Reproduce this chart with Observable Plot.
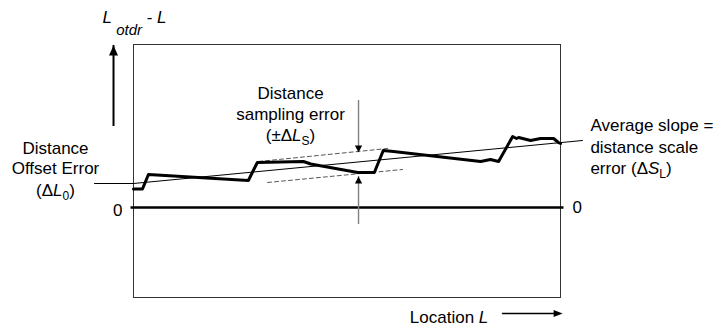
<!DOCTYPE html>
<html><head><meta charset="utf-8">
<script src="https://cdn.jsdelivr.net/npm/d3@7"></script>
<script src="https://cdn.jsdelivr.net/npm/@observablehq/plot@0.6"></script>
<style>body{margin:0;background:#fff;}</style>
</head><body><div id="chart"></div>
<script>
// Measured OTDR trace: location across the frame (0–100) vs. deviation Lotdr − L (arbitrary units)
const traceX = [0, 2.1, 3.5, 26.9, 29.0, 39.8, 41.5, 52.5, 56.4, 58.5, 60.9, 81.3, 83.6, 85.5, 88.8, 89.7, 90.2, 93.0, 95.3, 98.4, 99.5, 100];
const traceY = [18.5, 18.5, 33, 27, 45, 46, 43.5, 35, 35, 57, 56, 46, 48, 46, 71, 69, 70, 67, 69, 69, 65, 64];

// Average-slope (trend) line and offset leader
const trendX = [0, 105.15];
const trendY = [24, 67];
const leaderX = [-9.13, 0];
const leaderY = [24, 24];

// Sampling-error band (dashed)
const bandUpperX = [29.3, 59.5];
const bandUpperY = [46, 59];
const bandLowerX = [31.4, 63.0];
const bandLowerY = [25, 38];

// Zero line
const zeroX = [-0.7, 100.7];

// Arrows: x, from y, to y (tip)
const vArrowX = [-4.68, 52.7, 52.7];
const vArrowFrom = [87, 107, -13];
const vArrowTo = [162, 55, 31];
const vArrowColor = ["black", "#808080", "#808080"];
const hArrowY = [-106];
const hArrowFrom = [86.4];
const hArrowTo = [100.5];

// Text labels ({} italic, [] subscript)
const labelText = ["{L}[ {otdr}] - {L}", "Distance", "Offset Error", "(Δ{L}[0])",
  "Distance", "sampling error", "(±Δ{L}[S])",
  "Average slope =", "distance scale", "error (Δ{S}[L])",
  "0", "0", "Location {L}"];
const labelX = [-7.26, -18.27, -18.27, -18.27, 36.77, 36.77, 36.77, 107, 107, 107, -2.58, 102.8, 83.1];
const labelY = [185, 54, 33.5, 12, 109, 88, 67, 77, 55, 34, -8, -5, -115];
const labelAnchor = ["start", "middle", "middle", "middle", "middle", "middle", "middle", "start", "start", "start", "end", "start", "end"];

const trace = traceX.map((x, i) => ({x, y: traceY[i]}));
const trend = trendX.map((x, i) => ({x, y: trendY[i]}));
const leader = leaderX.map((x, i) => ({x, y: leaderY[i]}));
const bandU = bandUpperX.map((x, i) => ({x, y: bandUpperY[i]}));
const bandL = bandLowerX.map((x, i) => ({x, y: bandLowerY[i]}));
const zero = zeroX.map(x => ({x, y: 0}));
const vArrows = vArrowX.map((x, i) => ({x, y1: vArrowFrom[i], y2: vArrowTo[i], c: vArrowColor[i], up: vArrowTo[i] > vArrowFrom[i]}));
const hArrows = hArrowY.map((y, i) => ({y, x1: hArrowFrom[i], x2: hArrowTo[i]}));
const labels = labelText.map((t, i) => ({t, x: labelX[i], y: labelY[i], a: labelAnchor[i]}));

function head(dir, len, half) {
  return {draw(ctx) {
    ctx.moveTo(0, 0);
    if (dir === "up") { ctx.lineTo(-half, len); ctx.lineTo(half, len); }
    else if (dir === "down") { ctx.lineTo(-half, -len); ctx.lineTo(half, -len); }
    else { ctx.lineTo(-len, -half); ctx.lineTo(-len, half); }
    ctx.closePath();
  }};
}

const font = "Liberation Sans, Arial, Helvetica, sans-serif";
const textMark = (anchor) => Plot.text(labels.filter(d => d.a === anchor), {
  x: "x", y: "y", text: "t", textAnchor: anchor, lineAnchor: "bottom",
  fontSize: 17, fontFamily: font, fill: "black"
});

const chart = Plot.plot({
  width: 724, height: 334,
  marginLeft: 133, marginRight: 164, marginTop: 44, marginBottom: 37,
  x: {domain: [0, 100], axis: null},
  y: {domain: [-90, 163], axis: null},
  style: {background: "white", fontFamily: font, overflow: "visible"},
  marks: [
    Plot.frame({stroke: "#333", strokeWidth: 1}),
    Plot.line(zero, {x: "x", y: "y", stroke: "black", strokeWidth: 2.5, strokeLinecap: "butt"}),
    Plot.line(bandU, {x: "x", y: "y", stroke: "#444", strokeWidth: 0.9, strokeDasharray: "4,3"}),
    Plot.line(bandL, {x: "x", y: "y", stroke: "#444", strokeWidth: 0.9, strokeDasharray: "4,3"}),
    Plot.line(trend, {x: "x", y: "y", stroke: "black", strokeWidth: 1}),
    Plot.line(leader, {x: "x", y: "y", stroke: "black", strokeWidth: 1.2}),
    Plot.line(trace, {x: "x", y: "y", stroke: "black", strokeWidth: 3, strokeLinejoin: "round"}),
    // vertical arrows
    Plot.ruleX(vArrows.filter(d => d.c === "black"), {x: "x", y1: "y1", y2: "y2", stroke: "black", strokeWidth: 2, insetTop: 6}),
    Plot.dot(vArrows.filter(d => d.c === "black"), {x: "x", y: "y2", symbol: head("up", 10, 4.5), fill: "black", stroke: "none", r: 5}),
    Plot.ruleX(vArrows.filter(d => d.c !== "black" && !d.up), {x: "x", y1: "y1", y2: "y2", stroke: "#808080", strokeWidth: 1.4, insetBottom: 4}),
    Plot.dot(vArrows.filter(d => d.c !== "black" && !d.up), {x: "x", y: "y2", symbol: head("down", 7, 3.6), fill: "#000", stroke: "none", r: 4}),
    Plot.ruleX(vArrows.filter(d => d.c !== "black" && d.up), {x: "x", y1: "y1", y2: "y2", stroke: "#808080", strokeWidth: 1.4, insetTop: 4}),
    Plot.dot(vArrows.filter(d => d.c !== "black" && d.up), {x: "x", y: "y2", symbol: head("up", 7, 3.6), fill: "#000", stroke: "none", r: 4}),
    // horizontal arrow
    Plot.ruleY(hArrows, {y: "y", x1: "x1", x2: "x2", stroke: "black", strokeWidth: 1.6, insetRight: 5}),
    Plot.dot(hArrows, {x: "x2", y: "y", symbol: head("right", 9, 3.6), fill: "black", stroke: "none", r: 4}),
    textMark("start"), textMark("middle"), textMark("end")
  ]
});

function rich(el, markup, subSize, subShift) {
  const runs = []; let it = false, sub = false, buf = "";
  const flush = () => { if (buf) { runs.push({t: buf, it, sub}); buf = ""; } };
  for (const ch of markup) {
    if (ch === "{") { flush(); it = true; }
    else if (ch === "}") { flush(); it = false; }
    else if (ch === "[") { flush(); sub = true; }
    else if (ch === "]") { flush(); sub = false; }
    else buf += ch;
  }
  flush();
  el.textContent = "";
  let prevSub = false;
  for (const r of runs) {
    const ts = document.createElementNS("http://www.w3.org/2000/svg", "tspan");
    if (r.it) ts.setAttribute("font-style", "italic");
    if (r.sub) ts.setAttribute("font-size", subSize);
    if (r.sub && !prevSub) ts.setAttribute("dy", subShift);
    if (!r.sub && prevSub) ts.setAttribute("dy", -subShift);
    ts.textContent = r.t;
    el.appendChild(ts);
    prevSub = r.sub;
  }
}
d3.select(chart).selectAll("text").each(function () {
  const s = this.textContent;
  if (/[{\[]/.test(s)) {
    if (s.includes("otdr")) rich(this, s, 15, 12);
    else rich(this, s, 12, 4);
  }
});
document.getElementById("chart").appendChild(chart);
</script>
</body></html>
